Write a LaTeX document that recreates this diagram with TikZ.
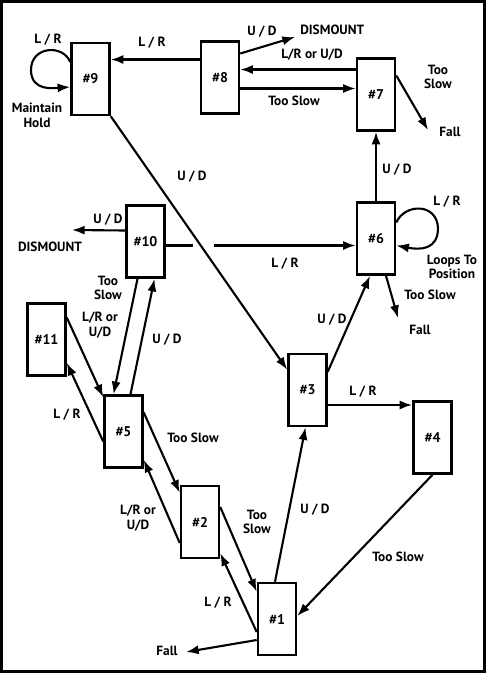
\documentclass[tikz,border=0pt]{standalone}
\usepackage{fontspec}
\setmainfont{PT Sans}
\usetikzlibrary{arrows.meta, calc}
\tikzset{
  state/.style={rectangle, draw=black, line width=1.8pt,
    minimum width=0.95cm, minimum height=1.8cm, inner sep=0pt,
    font=\bfseries\fontsize{10}{11}\selectfont},
  arrow/.style={-{Latex[length=9pt,width=6.5pt]}, line width=1.5pt},
  loop/.style={-{Latex[length=9pt,width=6.5pt]}, line width=1.5pt},
  lbl/.style={font=\bfseries\fontsize{9.5}{10.5}\selectfont, align=center,
    inner sep=0pt}
}
\begin{document}
\begin{tikzpicture}[x=0.025cm, y=-0.025cm]
  % Frame
  \fill[black] (0,0) rectangle (486,673);
  \fill[white] (3,3) rectangle (483,670);
  % States
  \node[state] (b9)  at (90.5,79)   {\#9};
  \node[state] (b8)  at (220,77.5)  {\#8};
  \node[state] (b7)  at (376,94.5)  {\#7};
  \node[state] (b10) at (145.5,241.5) {\#10};
  \node[state] (b6)  at (376,238.5) {\#6};
  \node[state] (b11) at (46.5,339.5) {\#11};
  \node[state] (b3)  at (307.5,390) {\#3};
  \node[state] (b4)  at (432.5,437.5) {\#4};
  \node[state] (b5)  at (123.5,431.5) {\#5};
  \node[state] (b2)  at (200,522)   {\#2};
  \node[state] (b1)  at (277,619)   {\#1};
  % Free ends
  \coordinate (dis8)   at (295,37);
  \coordinate (fall7)  at (428,130);
  \coordinate (fall6)  at (398,318);
  \coordinate (dis10)  at (72,230);
  \coordinate (fall1)  at (186,652);
  % Top row
  \coordinate (c89) at ($(b8.west)+(0,-18)$);
  \draw[arrow] (c89) -- (c89 -| b9.east);
  \draw[arrow] ($(b8.east)+(0,-24)$) -- (dis8);
  \coordinate (c78) at ($(b7.west)+(0,-25)$);
  \draw[arrow] (c78) -- (c78 -| b8.east);
  \coordinate (c87) at ($(b8.east)+(0,11)$);
  \draw[arrow] (c87) -- (c87 -| b7.west);
  \draw[arrow] ($(b7.east)+(0,-19)$) -- (fall7);
  % Self loops
  \draw[loop] ($(b9.west)+(0,-17)$) .. controls (63,44) and (31,46) .. (31,70)
    .. controls (31,92) and (55,88) .. ($(b9.west)+(0,8)$);
  \draw[loop] ($(b6.east)+(0,-16)$) .. controls (405,203) and (437,203) .. (438,228)
    .. controls (438,250) and (420,250) .. ($(b6.east)+(0,7)$);
  % Middle
  \draw[arrow] (b6.north) -- (b7.south);
  \draw[arrow] (b9.south east) -- ($(b3.north west)+(0,17)$);
  \coordinate (c106) at ($(b10.east)+(0,4)$);
  \draw[arrow] (c106) -- ++(27,0) ++(21,0) -- (c106 -| b6.west);
  \draw[arrow] ($(b6.south)+(10,0)$) -- (fall6);
  \draw[arrow] ($(b3.north east)+(0,19)$) -- ($(b6.south)+(-6,0)$);
  \draw[arrow] ($(b10.west)+(0,-11)$) -- (dis10);
  % Left cluster
  \draw[arrow] ($(b10.south)+(-8,0)$) -- ($(b5.north)+(-10,0)$);
  \draw[arrow] ($(b5.north)+(7,0)$) -- ($(b10.south)+(9,0)$);
  \draw[arrow] ($(b5.west)+(0,10)$) -- ($(b11.south east)+(0,-14)$);
  \draw[arrow] ($(b11.east)+(0,-22)$) -- ($(b5.north west)+(0,3)$);
  \draw[arrow] ($(b5.east)+(0,-19)$) -- ($(b2.north west)+(0,8)$);
  \draw[arrow] ($(b2.west)+(0,21)$) -- ($(b5.south east)+(0,-9)$);
  % Bottom
  \draw[arrow] ($(b2.east)+(0,-15)$) -- ($(b1.north west)+(0,10)$);
  \draw[arrow] ($(b1.west)+(0,13)$) -- ($(b2.south east)+(0,-6)$);
  \draw[arrow] ($(b1.north)+(-2,0)$) -- ($(b3.south)+(-2,0)$);
  \coordinate (c34) at ($(b3.east)+(0,15)$);
  \draw[arrow] (c34) -- (c34 -| b4.west);
  \draw[arrow] (b4.south) -- ($(b1.east)+(0,-3)$);
  \draw[arrow] ($(b1.west)+(0,21)$) -- (fall1);
  % Labels
  \node[lbl] (l89)   at (152,43)  {L / R};
  \node[lbl] (l99)   at (48,40)   {L / R};
  \node[lbl] (lhold) at (37,115)  {Maintain\\Hold};
  \node[lbl] (l8d)   at (262,32)  {U / D};
  \node[lbl, anchor=west] (tdis8) at (300,30) {DISMOUNT};
  \node[lbl] (l78)   at (312,55)  {L/R or U/D};
  \node[lbl] (l87)   at (294,101) {Too Slow};
  \node[lbl] (l7f)   at (438,77)  {Too\\Slow};
  \node[lbl] (tfall7) at (450,132) {Fall};
  \node[lbl] (l67)   at (397,170) {U / D};
  \node[lbl] (l93)   at (192,177) {U / D};
  \node[lbl] (l106)  at (285,264) {L / R};
  \node[lbl] (l66)   at (447,202) {L / R};
  \node[lbl] (lpos)  at (452,267) {Loops To\\Position};
  \node[lbl] (l6f)   at (430,295) {Too Slow};
  \node[lbl] (tfall6) at (420,330) {Fall};
  \node[lbl] (l36)   at (332,320) {U / D};
  \node[lbl] (l10d)  at (108,220) {U / D};
  \node[lbl] (tdis10) at (50,247) {DISMOUNT};
  \node[lbl] (l105)  at (108,288) {Too\\Slow};
  \node[lbl] (l115)  at (100,325) {L/R or\\U/D};
  \node[lbl] (l510)  at (167,340) {U / D};
  \node[lbl] (l511)  at (67,415)  {L / R};
  \node[lbl] (l52)   at (193,438) {Too Slow};
  \node[lbl] (l25)   at (138,518) {L/R or\\U/D};
  \node[lbl] (l21)   at (257,522) {Too\\Slow};
  \node[lbl] (l12)   at (218,603) {L / R};
  \node[lbl] (l13)   at (315,510) {U / D};
  \node[lbl] (l34)   at (363,392) {L / R};
  \node[lbl] (l41)   at (398,557) {Too Slow};
  \node[lbl] (tfall1) at (167,651) {Fall};
\end{tikzpicture}
\end{document}
